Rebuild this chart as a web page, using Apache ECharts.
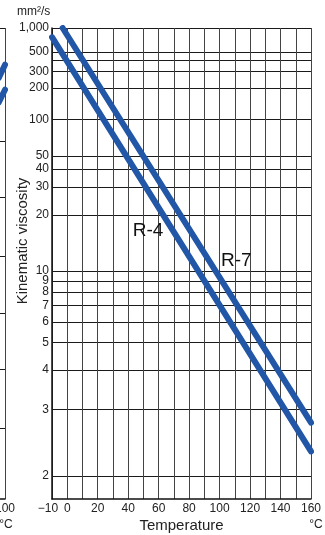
<!DOCTYPE html>
<html>
<head>
<meta charset="utf-8">
<title>Kinematic viscosity</title>
<script src="https://cdn.jsdelivr.net/npm/echarts@6/dist/echarts.min.js"></script>
<style>
  html, body { margin: 0; padding: 0; background: #fff; }
  #chart { width: 325px; height: 535px; }
</style>
</head>
<body>
<div id="chart"></div>
<script>
// viscosity grid (mm2/s), drawn on a log-log (Walther) scale
const viscLines = [2, 3, 4, 5, 6, 7, 8, 9, 10, 20, 30, 40, 50, 100, 200, 300, 400, 500, 1000];
const viscLabels = [2, 3, 4, 5, 6, 7, 8, 9, 10, 20, 30, 40, 50, 100, 200, 300, 500, 1000];
const viscMin = 1.77;
const viscMax = 1000;

// temperature grid (°C)
const tempLines = [-10, 0, 10, 20, 30, 40, 50, 60, 70, 80, 90, 100, 110, 120, 130, 140, 150, 160];
const tempLabels = [-10, 0, 20, 40, 60, 80, 100, 120, 140, 160];

// oil lines
const r4Temp = [-10, 160];
const r4Visc = [760, 2.3];
const r7Temp = [-3, 160];
const r7Visc = [1000, 2.75];

// where the line names sit
const nameTemp = [53, 111];
const nameVisc = [16.2, 11.3];

// neighbouring chart, only its right edge is in the picture
const leftTempLabels = [0, 20, 40, 60, 80, 100];
const leftLines = [15, 27.5, 39.5, 51.5, 64, 76, 100];
const leftATemp = [95, 100];
const leftAVal = [89.4, 92.2];
const leftBTemp = [95, 100];
const leftBVal = [84.2, 86.9];

const FONT = '"Liberation Sans", Arial, sans-serif';
const BLUE = '#2256a6';

const walther = function (v) {
  return Math.log10(Math.log10(v + 0.6));
};
const unwalther = function (w) {
  return Math.pow(10, Math.pow(10, w)) - 0.6;
};

const chart = echarts.init(document.getElementById('chart'));

const option = {
  animation: false,
  textStyle: { fontFamily: FONT },
  title: {
    text: 'mm²/s',
    left: 17,
    top: 6,
    padding: 0,
    textStyle: { fontSize: 12, fontWeight: 'normal', color: '#222', fontFamily: FONT }
  },
  grid: [
    { left: 52, right: 14, top: 28, height: 471, outerBoundsMode: 'none' },
    { left: -120, right: 320, top: 28, height: 471, outerBoundsMode: 'none' }
  ],
  xAxis: [
    {
      gridIndex: 0,
      type: 'value',
      min: -10,
      max: 160,
      name: 'Temperature',
      nameLocation: 'middle',
      nameGap: 19,
      nameMoveOverlap: false,
      nameTextStyle: { fontSize: 15, color: '#222' },
      axisLine: { onZero: false, lineStyle: { color: '#111', width: 1.5 } },
      axisTick: { show: false, customValues: tempLines },
      splitLine: { show: true, lineStyle: { color: '#444', width: 1 } },
      axisLabel: {
        customValues: tempLabels,
        margin: 4,
        fontSize: 12,
        color: '#222',
        formatter: function (v) {
          if (v < 0) return '{neg|−' + Math.abs(v) + '}';
          return v + '';
        },
        rich: {
          neg: { fontSize: 12, color: '#222', padding: [0, 8, 0, 0] }
        }
      }
    },
    {
      gridIndex: 1,
      type: 'value',
      min: 0,
      max: 100,
      name: '°C',
      nameLocation: 'end',
      nameGap: 1,
      nameMoveOverlap: false,
      nameTextStyle: { fontSize: 12, color: '#222', align: 'center', verticalAlign: 'top', padding: [20, 0, 0, 0] },
      axisLine: { onZero: false, lineStyle: { color: '#111', width: 1.5 } },
      axisTick: { show: false, customValues: leftTempLabels },
      splitLine: { show: true, lineStyle: { color: '#444', width: 1 } },
      axisLabel: { customValues: leftTempLabels, margin: 4, fontSize: 12, color: '#222' }
    },
    {
      // second bottom axis on the main grid, only for the unit at its end
      gridIndex: 0,
      type: 'value',
      position: 'bottom',
      min: -10,
      max: 160,
      name: '°C',
      nameLocation: 'end',
      nameGap: 5,
      nameMoveOverlap: false,
      nameTextStyle: { fontSize: 12, color: '#222', align: 'center', verticalAlign: 'top', padding: [20, 0, 0, 0] },
      axisLine: { show: false, onZero: false },
      axisTick: { show: false },
      axisLabel: { show: false },
      splitLine: { show: false }
    }
  ],
  yAxis: [
    {
      gridIndex: 0,
      type: 'value',
      min: walther(viscMin),
      max: walther(viscMax),
      name: 'Kinematic viscosity',
      nameLocation: 'middle',
      nameGap: 22,
      nameMoveOverlap: false,
      nameTextStyle: { fontSize: 15, color: '#222', padding: [0, 0, 0, 45] },
      axisLine: { show: true, onZero: false, lineStyle: { color: '#111', width: 1.5 } },
      axisTick: { show: false, customValues: viscLines.map(walther) },
      splitLine: { show: true, lineStyle: { color: '#1a1a1a', width: 1 } },
      axisLabel: {
        customValues: viscLabels.map(walther),
        margin: 3,
        fontSize: 12,
        color: '#222',
        formatter: function (w) {
          return Math.round(unwalther(w)).toLocaleString('en-US');
        }
      }
    },
    {
      gridIndex: 1,
      type: 'value',
      min: 0,
      max: 100,
      axisLine: { show: true, onZero: false, lineStyle: { color: '#111', width: 1.5 } },
      axisTick: { show: false, customValues: leftLines },
      splitLine: { show: true, lineStyle: { color: '#1a1a1a', width: 1 } },
      axisLabel: { show: false }
    }
  ],
  series: [
    {
      name: 'R-4',
      type: 'line',
      xAxisIndex: 0,
      yAxisIndex: 0,
      symbol: 'none',
      silent: true,
      lineStyle: { color: BLUE, width: 6, cap: 'round' },
      data: r4Temp.map(function (t, i) { return [t, walther(r4Visc[i])]; }),
      markPoint: {
        symbol: 'circle',
        symbolSize: 0,
        label: { show: true, position: 'inside', formatter: 'R-4', fontSize: 19, color: '#111' },
        data: [{ coord: [nameTemp[0], walther(nameVisc[0])] }]
      }
    },
    {
      name: 'R-7',
      type: 'line',
      xAxisIndex: 0,
      yAxisIndex: 0,
      symbol: 'none',
      silent: true,
      lineStyle: { color: BLUE, width: 6, cap: 'round' },
      data: r7Temp.map(function (t, i) { return [t, walther(r7Visc[i])]; }),
      markPoint: {
        symbol: 'circle',
        symbolSize: 0,
        label: { show: true, position: 'inside', formatter: 'R-7', fontSize: 19, color: '#111' },
        data: [{ coord: [nameTemp[1], walther(nameVisc[1])] }]
      }
    },
    {
      type: 'line',
      xAxisIndex: 1,
      yAxisIndex: 1,
      symbol: 'none',
      silent: true,
      lineStyle: { color: BLUE, width: 6, cap: 'round' },
      data: leftATemp.map(function (t, i) { return [t, leftAVal[i]]; })
    },
    {
      type: 'line',
      xAxisIndex: 1,
      yAxisIndex: 1,
      symbol: 'none',
      silent: true,
      lineStyle: { color: BLUE, width: 6, cap: 'round' },
      data: leftBTemp.map(function (t, i) { return [t, leftBVal[i]]; })
    }
  ]
};

chart.setOption(option);
</script>
</body>
</html>
